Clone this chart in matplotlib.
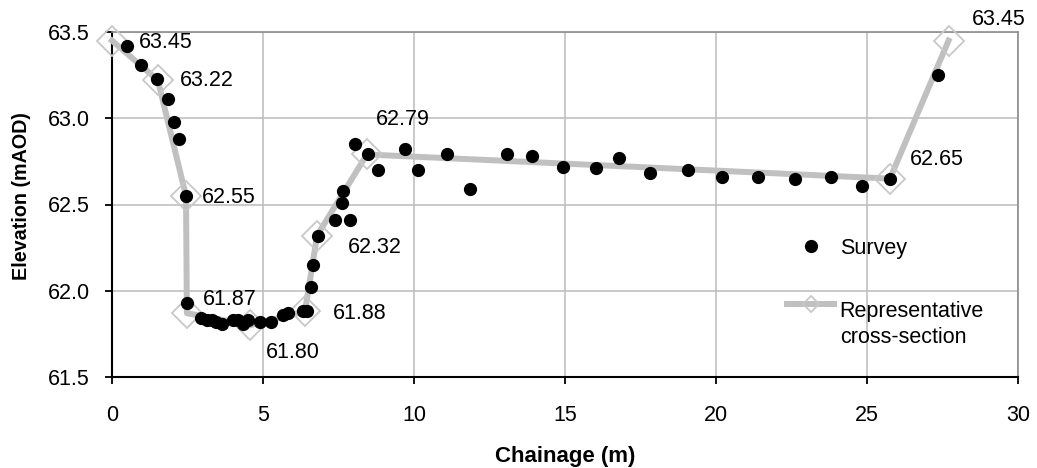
import matplotlib
matplotlib.use("Agg")
import matplotlib.pyplot as plt
from matplotlib.legend_handler import HandlerLine2D

plt.rcParams['font.family'] = ['Liberation Sans', 'DejaVu Sans']

# Survey points
survey_x = [0.51, 0.96, 1.48, 1.87, 2.05, 2.21, 2.45, 2.49, 2.94, 3.13, 3.30, 3.46,
            3.63, 4.01, 4.18, 4.35, 4.51, 4.90, 5.25, 5.67, 5.84, 6.33, 6.45, 6.59,
            6.67, 6.81, 7.38, 7.60, 7.64, 7.88, 8.05, 8.49, 8.82, 9.70, 10.12, 11.08,
            11.85, 13.07, 13.92, 14.92, 16.01, 16.79, 17.81, 19.08, 20.21, 21.38,
            22.62, 23.81, 24.82, 25.76, 27.34]
survey_y = [63.42, 63.31, 63.23, 63.11, 62.98, 62.88, 62.55, 61.93, 61.84, 61.83, 61.83, 61.82,
            61.81, 61.83, 61.83, 61.81, 61.83, 61.82, 61.82, 61.86, 61.87, 61.88, 61.88, 62.02,
            62.15, 62.32, 62.41, 62.51, 62.58, 62.41, 62.85, 62.79, 62.70, 62.82, 62.70, 62.79,
            62.59, 62.79, 62.78, 62.72, 62.71, 62.77, 62.68, 62.70, 62.66, 62.66,
            62.65, 62.66, 62.61, 62.65, 63.25]

# Representative cross-section
rep_x = [0.0, 1.52, 2.45, 2.48, 4.57, 6.39, 6.79, 8.44, 25.76, 27.70]
rep_y = [63.45, 63.22, 62.55, 61.87, 61.80, 61.88, 62.32, 62.79, 62.65, 63.45]
# label offsets (pixels: right, up)
label_dx = [27, 22, 16, 16, 16, 28, 31, 9, 20, 23]
label_dy = [-2, 0, -2, 14, -27, -2, -12, 35, 19, 21]

xticks = [0, 5, 10, 15, 20, 25, 30]
yticks = [61.5, 62.0, 62.5, 63.0, 63.5]

FS = 15.5
W, H = 1037, 468
fig = plt.figure(figsize=(W / 100, H / 100), dpi=100)
ax = fig.add_axes([112 / W, 1 - 377 / H, (1018 - 112) / W, (377 - 32) / H])

rep_line, = ax.plot(rep_x, rep_y, color='#c0c0c0', lw=4.3, marker='D', ms=15,
                    mfc='none', mec='#c8c8c8', mew=1.3, clip_on=False, zorder=3,
                    label='Representative\ncross-section')
ax.plot(survey_x, survey_y, ls='none', marker='o', ms=8.5, color='black',
        clip_on=False, zorder=4, label='Survey')

for x, y, dx, dy in zip(rep_x, rep_y, label_dx, label_dy):
    ax.annotate(f"{y:.2f}", (x, y), xytext=(dx * 0.72, dy * 0.72),
                textcoords='offset points', ha='left', va='center',
                fontsize=FS, color='black', annotation_clip=False, zorder=5)

ax.set_xlim(0, 30)
ax.set_ylim(61.5, 63.5)
ax.set_xticks(xticks)
ax.set_yticks(yticks)
ax.set_xticklabels([f"{t}" for t in xticks])
ax.set_yticklabels([f"{t:.1f}" for t in yticks])
ax.tick_params(axis='both', direction='out', length=5, width=1.3,
               labelsize=FS, colors='black')
ax.tick_params(axis='x', pad=15)
ax.tick_params(axis='y', pad=11)
ax.grid(True, color='#c0c0c0', lw=1.2)
ax.set_axisbelow(True)
for s in ['left', 'bottom']:
    ax.spines[s].set_color('black')
    ax.spines[s].set_linewidth(1.5)
for s in ['top', 'right']:
    ax.spines[s].set_color('#8c8c8c')
    ax.spines[s].set_linewidth(1.2)

ax.set_xlabel('Chainage (m)', fontsize=16, fontweight='bold')
ax.set_ylabel('Elevation (mAOD)', fontsize=14.2, fontweight='bold')
ax.xaxis.set_label_coords(0.5, -0.2)
ax.yaxis.set_label_coords(-0.089, 0.525)


class RaisedLine(HandlerLine2D):
    def __init__(self, shift, **kw):
        super().__init__(**kw)
        self.shift = shift

    def create_artists(self, legend, orig_handle, xdescent, ydescent,
                       width, height, fontsize, trans):
        arts = super().create_artists(legend, orig_handle, xdescent, ydescent,
                                      width, height, fontsize, trans)
        for a in arts:
            a.set_ydata([y + self.shift for y in a.get_ydata()])
            a.set_markersize(8.5)
        return arts


handles, labels = ax.get_legend_handles_labels()
leg = fig.legend(handles[::-1], labels[::-1], loc='upper left',
                 bbox_to_anchor=(787 / W, 1 - 238 / H), frameon=False,
                 fontsize=FS, handlelength=2.2, handletextpad=0.25,
                 labelspacing=1.95, borderaxespad=0, borderpad=0,
                 handler_map={rep_line: RaisedLine(15)})
for t in leg.get_texts():
    t.set_linespacing(1.3)

fig.savefig('out.png', dpi=100)
